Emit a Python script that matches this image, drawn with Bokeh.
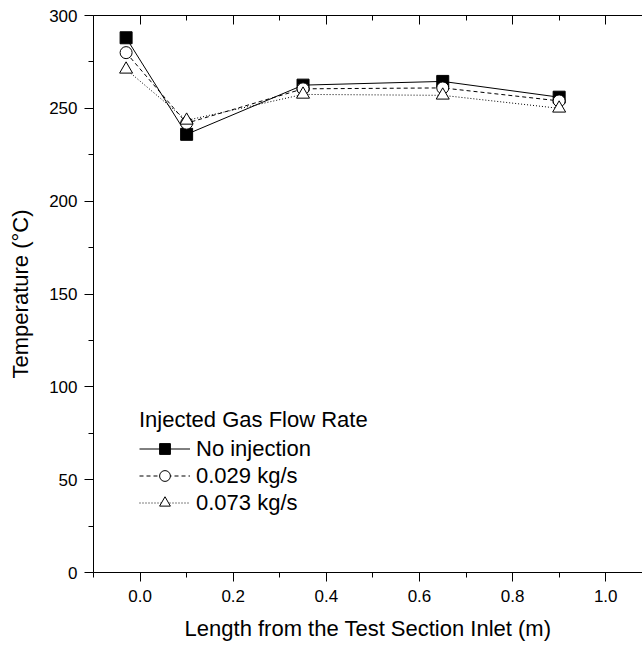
from bokeh.plotting import figure
from bokeh.models import (LinearAxis, Range1d, Legend, LegendItem, FixedTicker,
                          PrintfTickFormatter, CustomJSTickFormatter)
from bokeh.embed import file_html
from bokeh.resources import INLINE

# ---- data ----
x_pos = [-0.03, 0.10, 0.35, 0.65, 0.90]
no_injection = [288.0, 236.0, 262.5, 264.5, 256.0]
flow_0029 = [280.0, 242.0, 260.5, 261.0, 254.0]
flow_0073 = [271.0, 243.5, 257.5, 257.0, 250.0]
series_labels = ["No injection", "0.029 kg/s", "0.073 kg/s"]
legend_title = "Injected Gas Flow Rate"
x_label = "Length from the Test Section Inlet (m)"
y_label = "Temperature (\u00b0C)"
x_major = [0.0, 0.2, 0.4, 0.6, 0.8, 1.0]
x_minor = [-0.1, 0.1, 0.3, 0.5, 0.7, 0.9, 1.1]
y_major = [0, 50, 100, 150, 200, 250, 300]
y_minor = [25, 75, 125, 175, 225, 275]

FONT = "Liberation Sans"

p = figure(width=642, height=646, output_backend="svg", toolbar_location=None,
           x_range=Range1d(-0.1, 1.079), y_range=Range1d(0, 300),
           min_border_left=93, min_border_right=0, min_border_top=15,
           min_border_bottom=74)
p.outline_line_color = None
p.grid.visible = False
p.background_fill_color = "white"
p.border_fill_color = "white"

xt = FixedTicker(ticks=x_major, minor_ticks=x_minor)
yt = FixedTicker(ticks=y_major, minor_ticks=y_minor)
p.xaxis.ticker = xt
p.yaxis.ticker = yt

for ax in (p.xaxis[0], p.yaxis[0]):
    ax.axis_line_color = "black"
    ax.major_tick_line_color = "black"
    ax.minor_tick_line_color = "black"
    ax.major_tick_out = 9
    ax.major_tick_in = 0
    ax.minor_tick_out = 5
    ax.minor_tick_in = 0
    ax.major_label_text_font = FONT
    ax.major_label_text_font_size = "17px"
    ax.major_label_text_color = "black"
    ax.axis_label_text_font = FONT
    ax.axis_label_text_font_size = "22px"
    ax.axis_label_text_font_style = "normal"
    ax.axis_label_text_color = "black"

p.xaxis.axis_label = x_label
p.yaxis.axis_label = y_label
p.xaxis.major_label_standoff = 8
p.xaxis.axis_label_standoff = 11
p.yaxis.major_label_standoff = 7
p.yaxis.axis_label_standoff = 13
p.xaxis.formatter = PrintfTickFormatter(format="%.1f")

top = LinearAxis(ticker=xt, formatter=CustomJSTickFormatter(code="return ''"),
                 major_label_standoff=0,
                 major_tick_in=9, major_tick_out=0, minor_tick_in=5, minor_tick_out=0,
                 axis_line_color="black", major_tick_line_color="black",
                 minor_tick_line_color="black")
p.add_layout(top, "above")

# ---- series ----
l1 = p.line(x_pos, no_injection, line_color="black", line_width=1)
s1 = p.scatter(x_pos, no_injection, marker="square", size=12,
               fill_color="black", line_color="black")
l2 = p.line(x_pos, flow_0029, line_color="black", line_width=1, line_dash="4 3")
s2 = p.scatter(x_pos, flow_0029, marker="circle", size=12,
               fill_color="white", line_color="black")
l3 = p.line(x_pos, flow_0073, line_color="black", line_width=1, line_dash="1 2")
s3 = p.scatter(x_pos, flow_0073, marker="triangle", size=13,
               fill_color="white", line_color="black")

legend = Legend(items=[
    LegendItem(label=series_labels[0], renderers=[l1, s1]),
    LegendItem(label=series_labels[1], renderers=[l2, s2]),
    LegendItem(label=series_labels[2], renderers=[l3, s3]),
], location=(46, 56))
legend.title = legend_title
legend.title_text_font = FONT
legend.title_text_font_size = "22px"
legend.title_text_font_style = "normal"
legend.title_text_color = "black"
legend.title_standoff = 2
legend.label_text_font = FONT
legend.label_text_font_size = "22px"
legend.label_text_color = "black"
legend.border_line_color = None
legend.background_fill_alpha = 0
legend.padding = 2
legend.margin = 0
legend.spacing = 0
legend.glyph_width = 51
legend.glyph_height = 27
legend.label_height = 27
legend.label_standoff = 6
p.add_layout(legend, "center")

open("out.html", "w").write(file_html(p, INLINE))
